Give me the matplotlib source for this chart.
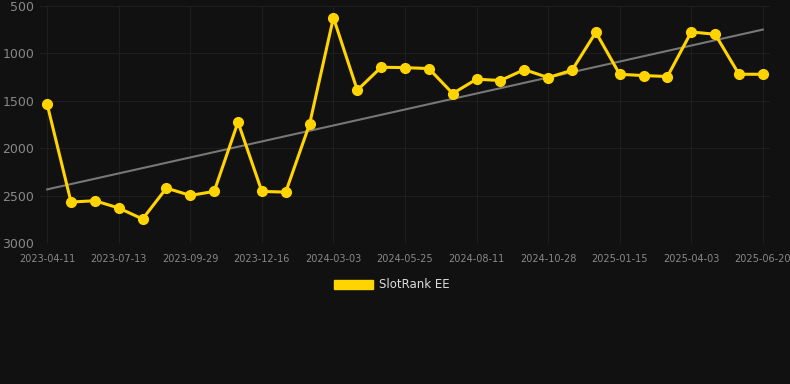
import matplotlib
matplotlib.use("Agg")
import matplotlib.pyplot as plt
from matplotlib.patches import Patch
import numpy as np

tick_labels = ["2023-04-11", "2023-07-13", "2023-09-29", "2023-12-16", "2024-03-03",
               "2024-05-25", "2024-08-11", "2024-10-28", "2025-01-15", "2025-04-03",
               "2025-06-20"]
values = [1536, 2568, 2554, 2631, 2747, 2421, 2498, 2456, 1725, 2456, 2463,
          1746, 623, 1388, 1146, 1150, 1160, 1423, 1272, 1286, 1171, 1255,
          1178, 777, 1220, 1234, 1244, 774, 798, 1220, 1220]
series_name = "SlotRank EE"

bg = "#111111"
gold = "#FFD400"

fig = plt.figure(figsize=(7.9, 3.84), dpi=100, facecolor=bg)
ax = fig.add_axes([40/790, 1-243/384, 730/790, 237/384])
ax.set_facecolor(bg)

x = np.arange(len(values))
coef = np.polyfit(x, values, 1)
ax.plot(x, np.polyval(coef, x), color="#777777", lw=1.5, zorder=2)
ax.plot(x, values, color=gold, lw=2.2, marker="o", ms=7, zorder=3)

ax.set_ylim(3000, 500)
ax.set_xlim(-0.3, len(values) - 1 + 0.3)
ax.set_yticks([500, 1000, 1500, 2000, 2500, 3000])
ax.set_xticks(x[::3])
ax.set_xticklabels(tick_labels)
ax.grid(True, color="#1e1e1e", lw=0.8)
for s in ax.spines.values():
    s.set_visible(False)
ax.tick_params(axis="both", length=0, colors="#888888")
ax.tick_params(axis="x", labelsize=7, pad=8)
ax.tick_params(axis="y", labelsize=9, pad=4)

leg = fig.legend(handles=[Patch(facecolor=gold, edgecolor=gold, label=series_name)],
                 loc="center", bbox_to_anchor=(392/790, 1-285/384), frameon=False,
                 handlelength=3.3, handleheight=0.9, fontsize=8.5, labelcolor="#dddddd",
                 handletextpad=0.5)

fig.savefig("out.png", dpi=100, facecolor=bg)
